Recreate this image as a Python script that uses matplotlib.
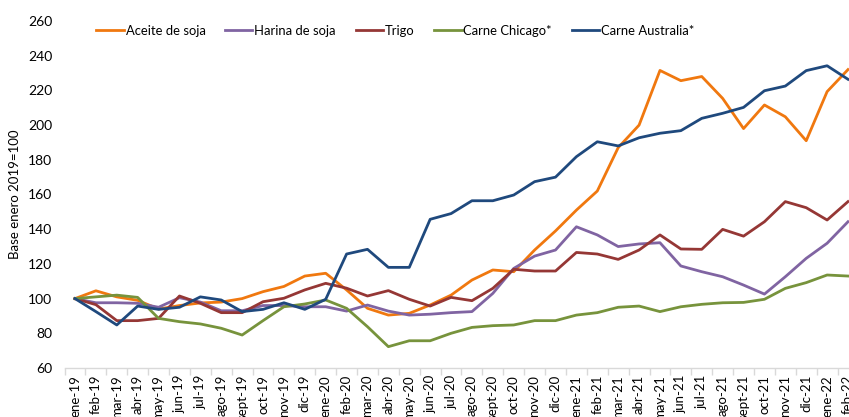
import matplotlib
matplotlib.use("Agg")
import matplotlib.pyplot as plt
import numpy as np

plt.rcParams['font.family'] = ['Lato', 'DejaVu Sans']

meses = ['ene-19', 'feb-19', 'mar-19', 'abr-19', 'may-19', 'jun-19', 'jul-19', 'ago-19',
         'sept-19', 'oct-19', 'nov-19', 'dic-19',
         'ene-20', 'feb-20', 'mar-20', 'abr-20', 'may-20', 'jun-20', 'jul-20', 'ago-20',
         'sept-20', 'oct-20', 'nov-20', 'dic-20',
         'ene-21', 'feb-21', 'mar-21', 'abr-21', 'may-21', 'jun-21', 'jul-21', 'ago-21',
         'sept-21', 'oct-21', 'nov-21', 'dic-21',
         'ene-22', 'feb-22']

aceite_soja = [100, 104.5, 101, 99, 94, 96, 97.5, 98, 100, 104, 107, 113,
               114.6, 105, 94.4, 90.5, 91.5, 96.3, 102, 110.7, 116.5, 115.5, 128, 139,
               151, 162, 187, 200, 231.5, 225.6, 228, 215.4, 198, 211.6, 204.8, 191,
               219.3, 232]
harina_soja = [100, 97.6, 97.6, 97.3, 95, 100.5, 98, 93, 93, 96, 96, 95.3,
               95.3, 92.8, 96.3, 92.8, 90.5, 91, 91.9, 92.5, 103, 117.4, 124.5, 128,
               141.4, 136.7, 130, 131.5, 132.2, 118.8, 115.5, 112.6, 107.8, 102.6, 112.6, 123.2,
               131.9, 144.3]
trigo = [100, 96.5, 87.3, 87.3, 88.6, 101.5, 97.3, 91.9, 91.9, 98.2, 100.2, 105,
         108.8, 106, 101.5, 104.6, 99.6, 95.7, 100.7, 98.8, 105.9, 116.9, 115.9, 115.9,
         126.6, 125.7, 122.6, 128, 136.7, 128.6, 128.4, 139.9, 136, 144.3, 155.9, 152.4,
         145.3, 155.9]
carne_chicago = [100, 101, 102, 100.7, 88.6, 86.7, 85.4, 82.9, 79, 87.3, 95.3, 96.9,
                 99.2, 94.4, 83.8, 72.3, 75.7, 75.7, 80, 83.4, 84.4, 84.8, 87.3, 87.3,
                 90.5, 91.9, 95, 95.7, 92.5, 95.3, 96.7, 97.6, 97.8, 99.6, 105.9, 109.2,
                 113.6, 113]
carne_australia = [100, 92.5, 84.8, 95.7, 93.8, 95, 101, 99.2, 92.5, 93.8, 97.6, 93.8,
                   99.6, 125.7, 128.4, 118, 118, 145.7, 149, 156.4, 156.4, 159.7, 167.4, 170,
                   181.8, 190.4, 188, 192.7, 195.3, 196.8, 203.9, 206.8, 210.2, 219.8, 222.5, 231.4,
                   234.2, 226.4]

series = [
    ('Aceite de soja', aceite_soja, '#F0780F'),
    ('Harina de soja', harina_soja, '#8064A2'),
    ('Trigo', trigo, '#953735'),
    ('Carne Chicago*', carne_chicago, '#77933C'),
    ('Carne Australia*', carne_australia, '#1F497D'),
]

W, H = 849, 417
fig = plt.figure(figsize=(W / 100, H / 100), dpi=100)
x = np.arange(len(meses))
step = (848 - 75) / (len(meses) - 1)
left = 75 - step / 2
right = 848 + step / 2
ax = fig.add_axes([left / W, 1 - 368 / H, (right - left) / W, (368 - 21) / H])

for nombre, vals, color in series:
    ax.plot(x, vals, color=color, lw=2.0, label=nombre, solid_joinstyle='round')

ax.set_xlim(-0.5, len(meses) - 0.5)
ax.set_ylim(60, 260)
ax.set_yticks(np.arange(60, 261, 20))
ax.tick_params(axis='y', length=0, pad=9, labelsize=10, labelcolor='#000000')

ax.set_xticks(x)
ax.set_xticklabels(meses, rotation=90, fontsize=9.5)
ax.tick_params(axis='x', which='major', length=0, pad=5)
ax.set_xticks(np.arange(-0.5, len(meses), 1), minor=True)
ax.tick_params(axis='x', which='minor', length=5, color='#d9d9d9', width=1)

for s in ['top', 'right', 'left']:
    ax.spines[s].set_visible(False)
ax.spines['bottom'].set_color('#d9d9d9')
ax.spines['bottom'].set_linewidth(1)

ax.set_ylabel('Base enero 2019=100', fontsize=9.5)
ax.yaxis.set_label_coords(-44 / (right - left), 0.5)

leg = fig.legend(loc='center left', bbox_to_anchor=(91 / W, 1 - 31 / H), ncol=5,
                 frameon=False, fontsize=9.4, handlelength=2.1, handletextpad=0.15,
                 columnspacing=1.5, borderaxespad=0)

fig.savefig('out.png', dpi=100)
